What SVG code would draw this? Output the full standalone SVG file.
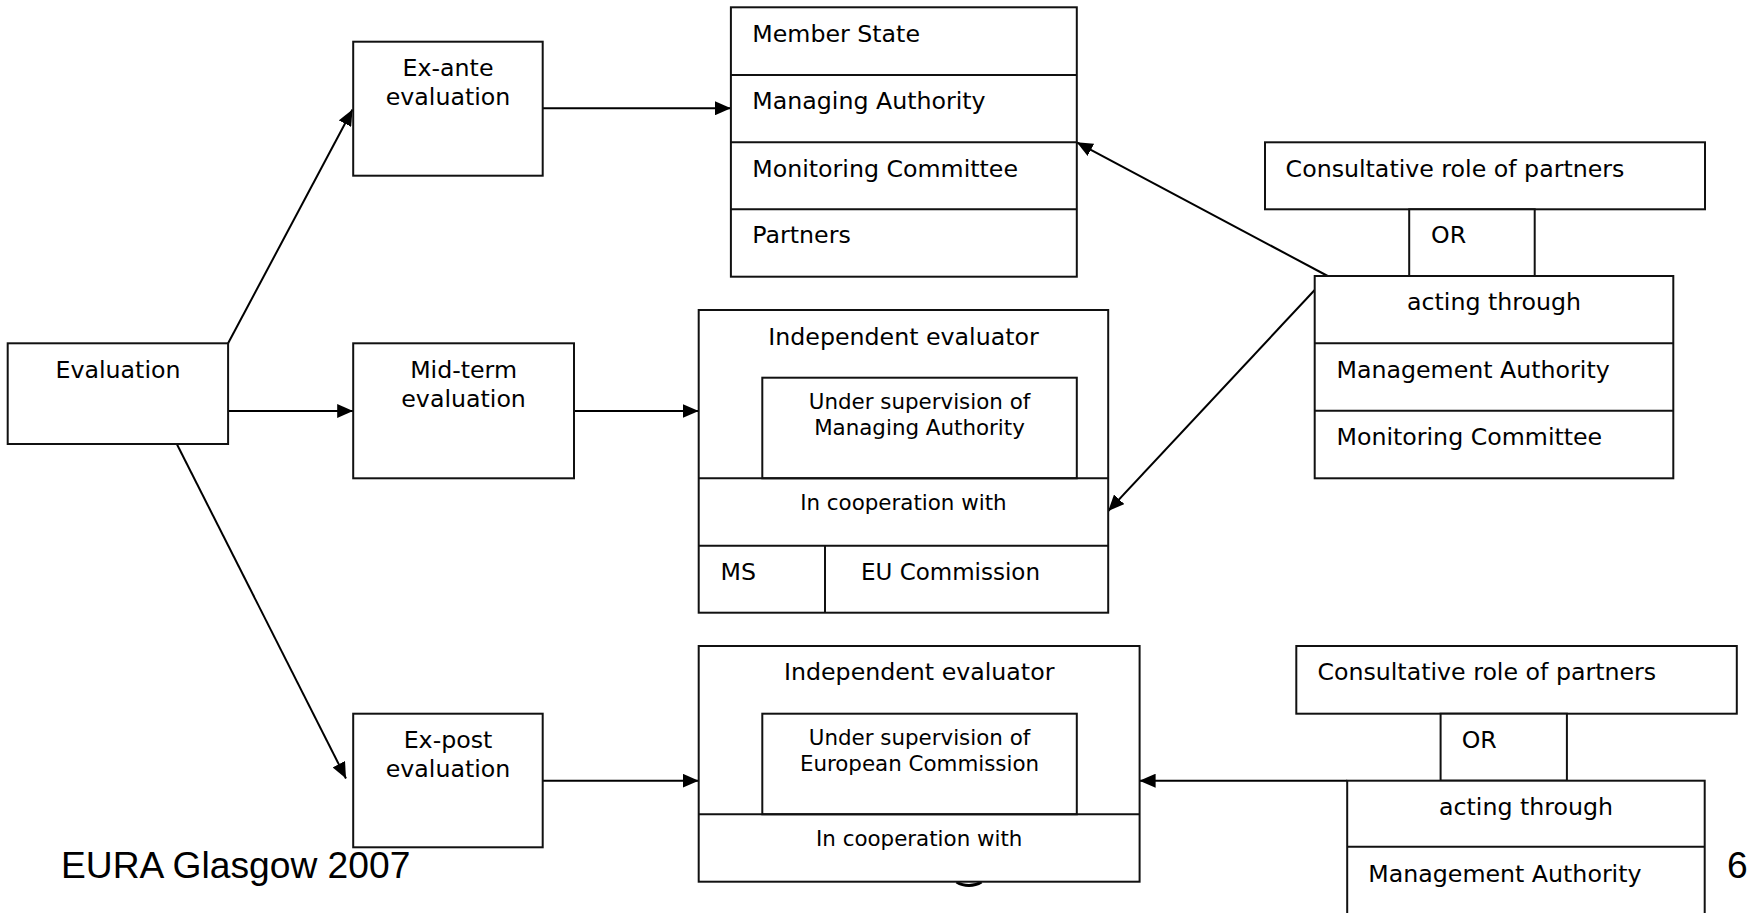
<svg xmlns="http://www.w3.org/2000/svg" width="1749" height="913" viewBox="0 0 1749 913">
  <defs>
    <marker id="arrow" markerUnits="userSpaceOnUse" markerWidth="16" markerHeight="14" refX="16" refY="7" orient="auto">
      <path d="M0,0 L16,7 L0,14 z" fill="#000"/>
    </marker>
    <style>
      .box { fill: #fff; stroke: #111; stroke-width: 2; }
      .div { stroke: #111; stroke-width: 2; fill: none; }
      .t { font-family: "DejaVu Sans", Verdana, sans-serif; font-size: 23.7px; fill: #000; }
      .s { font-family: "DejaVu Sans", Verdana, sans-serif; font-size: 21.4px; fill: #000; }
      .c { text-anchor: middle; }
      .foot { font-family: "Liberation Sans", Arial, sans-serif; font-size: 37.2px; fill: #000; }
      .edge { stroke: #000; stroke-width: 2; fill: none; marker-end: url(#arrow); }
    </style>
  </defs>
  <rect width="1749" height="913" fill="#fff"/>

  <!-- partial circle peeking out below the lower evaluator box -->
  <path d="M956.5,882 A24,24 0 0 0 981.5,882" fill="none" stroke="#000" stroke-width="3"/>

  <g id="connectors">
    <line class="edge" x1="228.1" y1="343.3" x2="352.5" y2="109.5"/>
    <line class="edge" x1="228.1" y1="411" x2="353.2" y2="411"/>
    <line class="edge" x1="176.8" y1="444" x2="346" y2="778.5"/>
    <line class="edge" x1="542.7" y1="108.3" x2="730.9" y2="108.3"/>
    <line class="edge" x1="574" y1="411" x2="698.7" y2="411"/>
    <line class="edge" x1="542.7" y1="780.7" x2="698.7" y2="780.7"/>
    <line class="edge" x1="1327.7" y1="276" x2="1076.8" y2="142.3"/>
    <line class="edge" x1="1314.7" y1="290" x2="1108.2" y2="511"/>
    <line class="edge" x1="1347.2" y1="780.7" x2="1139.6" y2="780.7"/>
  </g>

  <g id="evaluation">
    <rect class="box" x="7.7" y="343.3" width="220.4" height="100.7"/>
    <text class="t c" x="118" y="378">Evaluation</text>
  </g>

  <g id="ex-ante">
    <rect class="box" x="353.2" y="41.7" width="189.5" height="134"/>
    <text class="t c" x="448" y="76">Ex-ante</text>
    <text class="t c" x="448" y="105">evaluation</text>
  </g>

  <g id="mid-term">
    <rect class="box" x="353.2" y="343.3" width="220.8" height="135"/>
    <text class="t c" x="463.6" y="378.3">Mid-term</text>
    <text class="t c" x="463.6" y="406.7">evaluation</text>
  </g>

  <g id="ex-post">
    <rect class="box" x="353.2" y="713.7" width="189.5" height="133.6"/>
    <text class="t c" x="448" y="748.3">Ex-post</text>
    <text class="t c" x="448" y="776.7">evaluation</text>
  </g>

  <g id="member-state-table">
    <rect class="box" x="730.9" y="7.3" width="345.9" height="269.4"/>
    <line class="div" x1="730.9" y1="75" x2="1076.8" y2="75"/>
    <line class="div" x1="730.9" y1="142.3" x2="1076.8" y2="142.3"/>
    <line class="div" x1="730.9" y1="209.3" x2="1076.8" y2="209.3"/>
    <text class="t" x="752.3" y="41.7">Member State</text>
    <text class="t" x="752.3" y="109">Managing Authority</text>
    <text class="t" x="752.3" y="176.7">Monitoring Committee</text>
    <text class="t" x="752.3" y="243.3">Partners</text>
  </g>

  <g id="mid-term-evaluator">
    <rect class="box" x="698.7" y="310" width="409.5" height="302.7"/>
    <rect class="box" x="762.3" y="377.7" width="314.5" height="100.6"/>
    <line class="div" x1="698.7" y1="478.3" x2="1108.2" y2="478.3"/>
    <line class="div" x1="698.7" y1="545.7" x2="1108.2" y2="545.7"/>
    <line class="div" x1="825" y1="545.7" x2="825" y2="612.7"/>
    <text class="t c" x="903.5" y="345">Independent evaluator</text>
    <text class="s c" x="919.5" y="409.3">Under supervision of</text>
    <text class="s c" x="919.5" y="435">Managing Authority</text>
    <text class="s c" x="903.4" y="510">In cooperation with</text>
    <text class="t" x="720.5" y="580">MS</text>
    <text class="t" x="861" y="580" style="font-size:23px">EU Commission</text>
  </g>

  <g id="ex-post-evaluator">
    <rect class="box" x="698.7" y="646" width="440.9" height="235.7"/>
    <rect class="box" x="762.3" y="713.7" width="314.5" height="100.6"/>
    <line class="div" x1="698.7" y1="814.3" x2="1139.6" y2="814.3"/>
    <text class="t c" x="919.2" y="680">Independent evaluator</text>
    <text class="s c" x="919.5" y="745">Under supervision of</text>
    <text class="s c" x="919.5" y="770.7">European Commission</text>
    <text class="s c" x="919.2" y="846">In cooperation with</text>
  </g>

  <g id="partners-upper">
    <rect class="box" x="1265" y="142.3" width="440" height="67"/>
    <text class="t" x="1285.6" y="176.7">Consultative role of partners</text>
    <rect class="box" x="1409.2" y="209.3" width="125.5" height="66.7"/>
    <text class="t" x="1431" y="243.3">OR</text>
    <rect class="box" x="1314.7" y="276" width="358.6" height="202.3"/>
    <line class="div" x1="1314.7" y1="343.3" x2="1673.3" y2="343.3"/>
    <line class="div" x1="1314.7" y1="410.7" x2="1673.3" y2="410.7"/>
    <text class="t c" x="1494" y="310">acting through</text>
    <text class="t" x="1336.5" y="377.7">Management Authority</text>
    <text class="t" x="1336.5" y="445">Monitoring Committee</text>
  </g>

  <g id="partners-lower">
    <rect class="box" x="1296.3" y="646" width="440.5" height="67.7"/>
    <text class="t" x="1317.4" y="680">Consultative role of partners</text>
    <rect class="box" x="1440.6" y="713.7" width="126.3" height="67"/>
    <text class="t" x="1461.7" y="747.7">OR</text>
    <rect class="box" x="1347.2" y="780.7" width="357.5" height="160"/>
    <line class="div" x1="1347.2" y1="846.7" x2="1704.7" y2="846.7"/>
    <text class="t c" x="1526" y="815">acting through</text>
    <text class="t" x="1368.3" y="881.7">Management Authority</text>
  </g>

  <g id="footer">
    <text class="foot" x="61" y="878.3">EURA Glasgow 2007</text>
    <text class="foot" x="1727" y="877.7">6</text>
  </g>
</svg>
